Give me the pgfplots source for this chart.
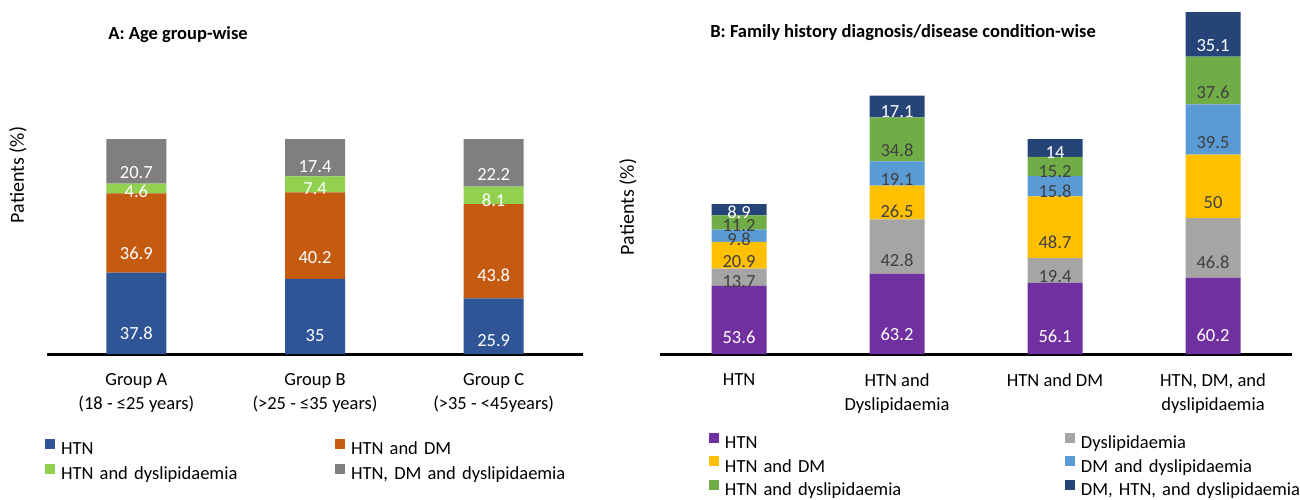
\documentclass[border=0pt]{standalone}
\usepackage{pgfplots}
\pgfplotsset{compat=1.18}
\usepackage{pgfplotstable}
\usepackage{fontspec}
\setmainfont{Carlito}
\definecolor{cBlue}{HTML}{2F5597}
\definecolor{cOrange}{HTML}{C55A11}
\definecolor{cLGreen}{HTML}{92D050}
\definecolor{cGray}{HTML}{7F7F7F}
\definecolor{cPurple}{HTML}{7030A0}
\definecolor{cLGray}{HTML}{A5A5A5}
\definecolor{cYellow}{HTML}{FFC000}
\definecolor{cLBlue}{HTML}{5B9BD5}
\definecolor{cGreen}{HTML}{70AD47}
\definecolor{cNavy}{HTML}{264478}
\definecolor{cLab}{HTML}{404040}

% Panel A: age group-wise
\pgfplotstableread{
x HTN HTNDM HTNDys HTNDMDys
0 37.8 36.9 4.6 20.7
1 35 40.2 7.4 17.4
2 25.9 43.8 8.1 22.2
}\dataA

% Panel B: family history diagnosis
\pgfplotstableread{
x HTN Dys HTNDM DMDys HTNDys DMHTNDys
0 53.6 13.7 20.9 9.8 11.2 8.9
1 63.2 42.8 26.5 19.1 34.8 17.1
2 56.1 19.4 48.7 15.8 15.2 14
3 60.2 46.8 50 39.5 37.6 35.1
}\dataB

\def\unitA{1.075pt}
\def\unitB{0.635pt}
\newcommand{\fnt}{\fontsize{9.25}{11.5}\selectfont}

\pgfplotsset{
  sq/.style={fill=#1, draw=none,
    legend image code/.code={\fill[#1] (0pt,0.5pt) rectangle (5pt,5.5pt);}},
  common/.style={
    scale only axis, anchor=south west, clip=false,
    ybar stacked, axis y line=none, axis x line*=bottom,
    x axis line style={line width=1.5pt, black, -},
    major tick length=0pt,
    xticklabel style={align=center, font=\fontsize{9.25}{12}\selectfont, inner sep=0pt, anchor=north, yshift=-9.5pt},
    ymin=0,
    point meta=explicit symbolic,
    nodes near coords, nodes near coords align={center},
    legend columns=2, legend cell align=left,
  },
}

\begin{document}
\begin{tikzpicture}
\useasboundingbox (0,0) rectangle (650pt,249.5pt);

\begin{axis}[common,
  at={(23.5pt,72.5pt)}, width=268pt, height=161.25pt,
  xmin=-0.5, xmax=2.5, ymax=150, bar width=30pt,
  xtick={0,1,2},
  xticklabels={{Group A\\(18 - ≤25 years)},{Group B\\(>25 - ≤35  years)},{Group C\\(>35 - <45years)}},
  every node near coord/.append style={font=\fnt, text=white, anchor=center, yshift={-0.25*\pgfplotspointmeta*\unitA}},
  legend style={at={(-0.00373,-0.2632)}, anchor=north west, draw=none, fill=none,
    inner sep=0pt, outer sep=0pt, row sep=2.5pt, column sep=0pt,
    nodes={inner xsep=3pt, inner ysep=0pt, text width=134pt, text height=7pt, text depth=2pt, font=\fnt}},
]
\addplot[sq=cBlue] table[x=x, y=HTN, meta=HTN] {\dataA};
\addplot[sq=cOrange] table[x=x, y=HTNDM, meta=HTNDM] {\dataA};
\addplot[sq=cLGreen] table[x=x, y=HTNDys, meta=HTNDys] {\dataA};
\addplot[sq=cGray] table[x=x, y=HTNDMDys, meta=HTNDMDys] {\dataA};
\legend{HTN, HTN and DM, HTN and dyslipidaemia, {HTN, DM and dyslipidaemia}}
\end{axis}

\begin{axis}[common,
  at={(330pt,72.5pt)}, width=316pt, height=177.8pt,
  xmin=-0.5, xmax=3.5, ymax=280, bar width=27.5pt,
  xtick={0,1,2,3},
  xticklabels={{HTN},{HTN and\\Dyslipidaemia},{HTN and DM},{HTN, DM, and\\dyslipidaemia}},
  every node near coord/.append style={font=\fnt, anchor=center, yshift={-0.25*\pgfplotspointmeta*\unitB}},
  legend style={at={(0.0775,-0.2221)}, anchor=north west, draw=none, fill=none,
    inner sep=0pt, outer sep=0pt, row sep=1.75pt, column sep=0pt,
    nodes={inner xsep=3pt, inner ysep=0pt, text width=167pt, text height=7pt, text depth=2pt, font=\fnt}},
]
\addplot[sq=cPurple, every node near coord/.append style={text=white}] table[x=x, y=HTN, meta=HTN] {\dataB};
\addplot[sq=cLGray, every node near coord/.append style={text=cLab}] table[x=x, y=Dys, meta=Dys] {\dataB};
\addplot[sq=cYellow, every node near coord/.append style={text=cLab}] table[x=x, y=HTNDM, meta=HTNDM] {\dataB};
\addplot[sq=cLBlue, every node near coord/.append style={text=cLab}] table[x=x, y=DMDys, meta=DMDys] {\dataB};
\addplot[sq=cGreen, every node near coord/.append style={text=cLab}] table[x=x, y=HTNDys, meta=HTNDys] {\dataB};
\addplot[sq=cNavy, every node near coord/.append style={text=white}] table[x=x, y=DMHTNDys, meta=DMHTNDys] {\dataB};
\legend{HTN, Dyslipidaemia, HTN and DM, DM and dyslipidaemia, HTN and dyslipidaemia, {DM, HTN, and dyslipidaemia}}
\end{axis}

\node[font=\fnt\bfseries] at (89pt,232pt) {A: Age group-wise};
\node[font=\fnt\bfseries] at (451.5pt,233pt) {B: Family history diagnosis/disease condition-wise};
\node[rotate=90, font=\fontsize{10}{12}\selectfont] at (9pt,162pt) {Patients (\%)};
\node[rotate=90, font=\fontsize{10}{12}\selectfont] at (314pt,146pt) {Patients (\%)};
\end{tikzpicture}
\end{document}
